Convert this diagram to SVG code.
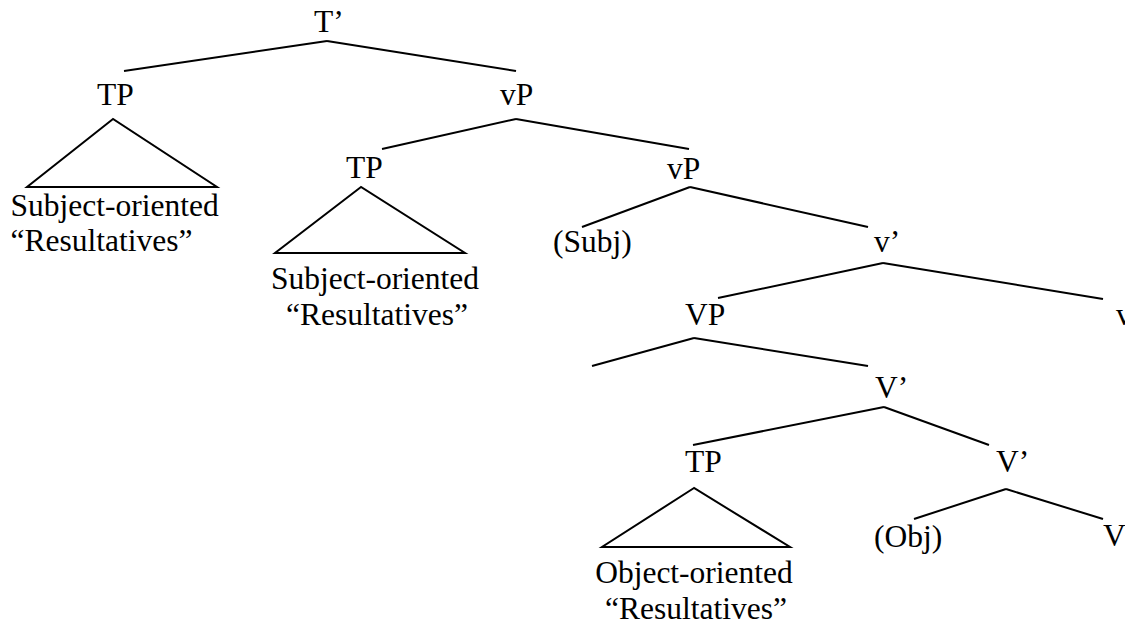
<svg xmlns="http://www.w3.org/2000/svg" width="1125" height="620" viewBox="0 0 1125 620">
<style>
  text { font-family: "Liberation Serif", "Times New Roman", serif; font-size: 31.5px; fill: #000; }
  .m { text-anchor: middle; }
  line, polygon { stroke: #000; stroke-width: 2; fill: none; stroke-linecap: butt; }
</style>
<rect x="0" y="0" width="1125" height="620" fill="#fff"/>
<g id="connectors">
  <line x1="327" y1="41" x2="124" y2="71"/>
  <line x1="327" y1="41" x2="516" y2="71"/>
  <line x1="516" y1="119" x2="382" y2="149"/>
  <line x1="516" y1="119" x2="689" y2="149"/>
  <line x1="690" y1="187" x2="582" y2="227"/>
  <line x1="690" y1="187" x2="868" y2="227"/>
  <line x1="883" y1="263" x2="718" y2="298"/>
  <line x1="883" y1="263" x2="1103" y2="299"/>
  <line x1="694" y1="338" x2="592" y2="366"/>
  <line x1="694" y1="338" x2="868" y2="366"/>
  <line x1="884" y1="407" x2="693" y2="445"/>
  <line x1="884" y1="407" x2="989" y2="445"/>
  <line x1="1006" y1="489" x2="914" y2="519"/>
  <line x1="1006" y1="489" x2="1103" y2="519"/>
</g>
<g id="node-Tbar"><text x="314" y="32">T’</text></g>
<g id="node-TP1">
  <text x="97" y="105">TP</text>
  <polygon points="113,119 27,187 217,187"/>
</g>
<g id="node-subj-res1">
  <text x="10.5" y="216">Subject-oriented</text>
  <text x="10.5" y="251">“Resultatives”</text>
</g>
<g id="node-vP1"><text x="500" y="105">vP</text></g>
<g id="node-TP2">
  <text x="346" y="178">TP</text>
  <polygon points="361,187 275,253 465,253"/>
</g>
<g id="node-subj-res2">
  <text class="m" x="375" y="289">Subject-oriented</text>
  <text class="m" x="377" y="325">“Resultatives”</text>
</g>
<g id="node-vP2"><text x="667" y="179">vP</text></g>
<g id="node-Subj"><text x="553" y="252">(Subj)</text></g>
<g id="node-vbar"><text x="874" y="252">v’</text></g>
<g id="node-VP"><text x="685" y="325">VP</text></g>
<g id="node-v"><text x="1116" y="325">v</text></g>
<g id="node-Vbar1"><text x="875" y="398">V’</text></g>
<g id="node-TP3">
  <text x="685" y="472">TP</text>
  <polygon points="694,488 602,547 790,547"/>
</g>
<g id="node-obj-res">
  <text class="m" x="694" y="583">Object-oriented</text>
  <text class="m" x="696" y="619">“Resultatives”</text>
</g>
<g id="node-Vbar2"><text x="996" y="472">V’</text></g>
<g id="node-Obj"><text x="874" y="547">(Obj)</text></g>
<g id="node-V"><text x="1103" y="546">V</text></g>
</svg>
